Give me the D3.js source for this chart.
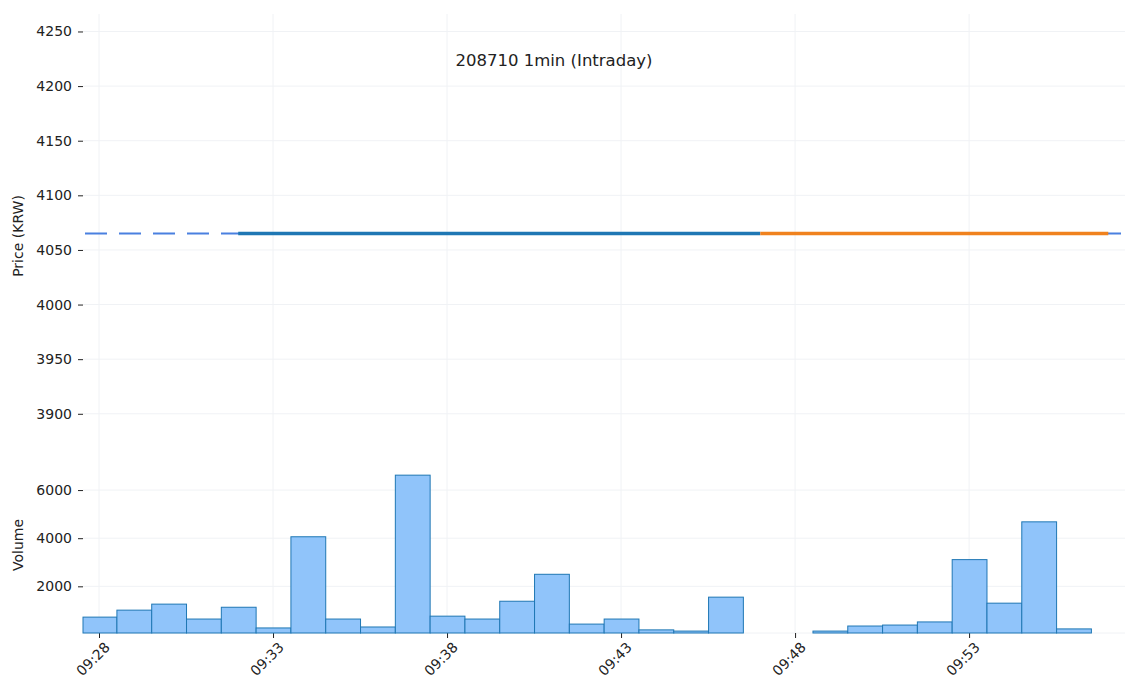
<!DOCTYPE html>
<html><head><meta charset="utf-8">
<script src="https://cdn.jsdelivr.net/npm/d3@7"></script>
<style>body{margin:0;background:#fff}text{font-family:"DejaVu Sans",sans-serif}</style>
</head><body><svg id="c" width="1137" height="698"></svg>
<script>
const minutes = ["09:28","09:29","09:30","09:31","09:32","09:33","09:34","09:35","09:36","09:37","09:38","09:39","09:40","09:41","09:42","09:43","09:44","09:45","09:46","09:47","09:48","09:49","09:50","09:51","09:52","09:53","09:54","09:55","09:56"];
const volumes = [720,1010,1260,640,1130,270,4060,640,310,6620,760,640,1380,2500,430,640,190,140,1550,0,0,140,350,390,520,3110,1300,4680,230];
const refPrice = 4065;
const bluePrice = [["09:32",4065],["09:47",4065]];
const orangePrice = [["09:47",4065],["09:57",4065]];
const xTickLabels = ["09:28","09:33","09:38","09:43","09:48","09:53"];
const priceTicks = [3900,3950,4000,4050,4100,4150,4200,4250];
const volTicks = [2000,4000,6000];

const svg = d3.select("#c");
const toMin = s => { const [h,m] = s.split(":").map(Number); return h*60+m; };
const L=83, R=1125;
const x = d3.scaleLinear().domain([toMin("09:28")-0.46, toMin("09:28")+29.48]).range([L,R]);
const yP = d3.scaleLinear().domain([3876,4266]).range([440,14]);
const yV = d3.scaleLinear().domain([60,7250]).range([633,460]);
const grid="#f0f2f5";
xTickLabels.forEach(t=>{svg.append("line").attr("x1",x(toMin(t))).attr("x2",x(toMin(t))).attr("y1",14).attr("y2",633).attr("stroke",grid);});
priceTicks.forEach(t=>svg.append("line").attr("x1",L).attr("x2",R).attr("y1",yP(t)).attr("y2",yP(t)).attr("stroke",grid));
volTicks.forEach(t=>svg.append("line").attr("x1",L).attr("x2",R).attr("y1",yV(t)).attr("y2",yV(t)).attr("stroke",grid));
svg.append("line").attr("x1",L).attr("x2",R).attr("y1",633).attr("y2",633).attr("stroke",grid);

const ax = g=>{g.select(".domain").remove();g.selectAll("text").attr("font-size",14).attr("fill","#222");g.selectAll(".tick line").attr("stroke","#222");};
svg.append("g").attr("transform",`translate(${L},0)`).call(d3.axisLeft(yP).tickValues(priceTicks).tickFormat(d3.format("d")).tickSize(5).tickPadding(6)).call(ax);
svg.append("g").attr("transform",`translate(${L},0)`).call(d3.axisLeft(yV).tickValues(volTicks).tickFormat(d3.format("d")).tickSize(5).tickPadding(6)).call(ax);
const gx = svg.append("g").attr("transform",`translate(0,633)`).call(d3.axisBottom(x).tickValues(xTickLabels.map(toMin)).tickFormat((d,i)=>xTickLabels[i]).tickSize(5).tickPadding(4)).call(ax);
gx.selectAll("text").attr("text-anchor","end").attr("dx","-0.2em").attr("dy","0.7em").attr("transform","rotate(-45)");

const bw = x(1)-x(0);
svg.append("g").selectAll("rect").data(minutes.map((m,i)=>({t:toMin(m),v:volumes[i]})).filter(d=>d.v>0)).join("rect")
 .attr("x",d=>Math.max(L,x(d.t)-bw/2+0.5)).attr("width",d=>x(d.t)+bw/2+0.5-Math.max(L,x(d.t)-bw/2+0.5))
 .attr("y",d=>yV(d.v)).attr("height",d=>633-yV(d.v)).attr("fill","#90c4fa").attr("stroke","#1f77b4").attr("stroke-width",1);

svg.append("line").attr("x1",L+2).attr("x2",R-4).attr("y1",yP(refPrice)).attr("y2",yP(refPrice)).attr("stroke","#4a80e0").attr("stroke-width",2).attr("stroke-dasharray","22,12");
const ln = d3.line().x(d=>x(toMin(d[0]))).y(d=>yP(d[1]));
svg.append("path").attr("d",ln(bluePrice)).attr("stroke","#1f77b4").attr("stroke-width",3.5).attr("fill","none");
svg.append("path").attr("d",ln(orangePrice)).attr("stroke","#f0821e").attr("stroke-width",3.5).attr("fill","none");

svg.append("text").attr("x",554).attr("y",66).attr("text-anchor","middle").attr("font-size",16.5).attr("fill","#222").text("208710 1min (Intraday)");
svg.append("text").attr("transform","translate(23,236) rotate(-90)").attr("text-anchor","middle").attr("font-size",14).attr("fill","#222").text("Price (KRW)");
svg.append("text").attr("transform","translate(23,545) rotate(-90)").attr("text-anchor","middle").attr("font-size",14).attr("fill","#222").text("Volume");
</script></body></html>
